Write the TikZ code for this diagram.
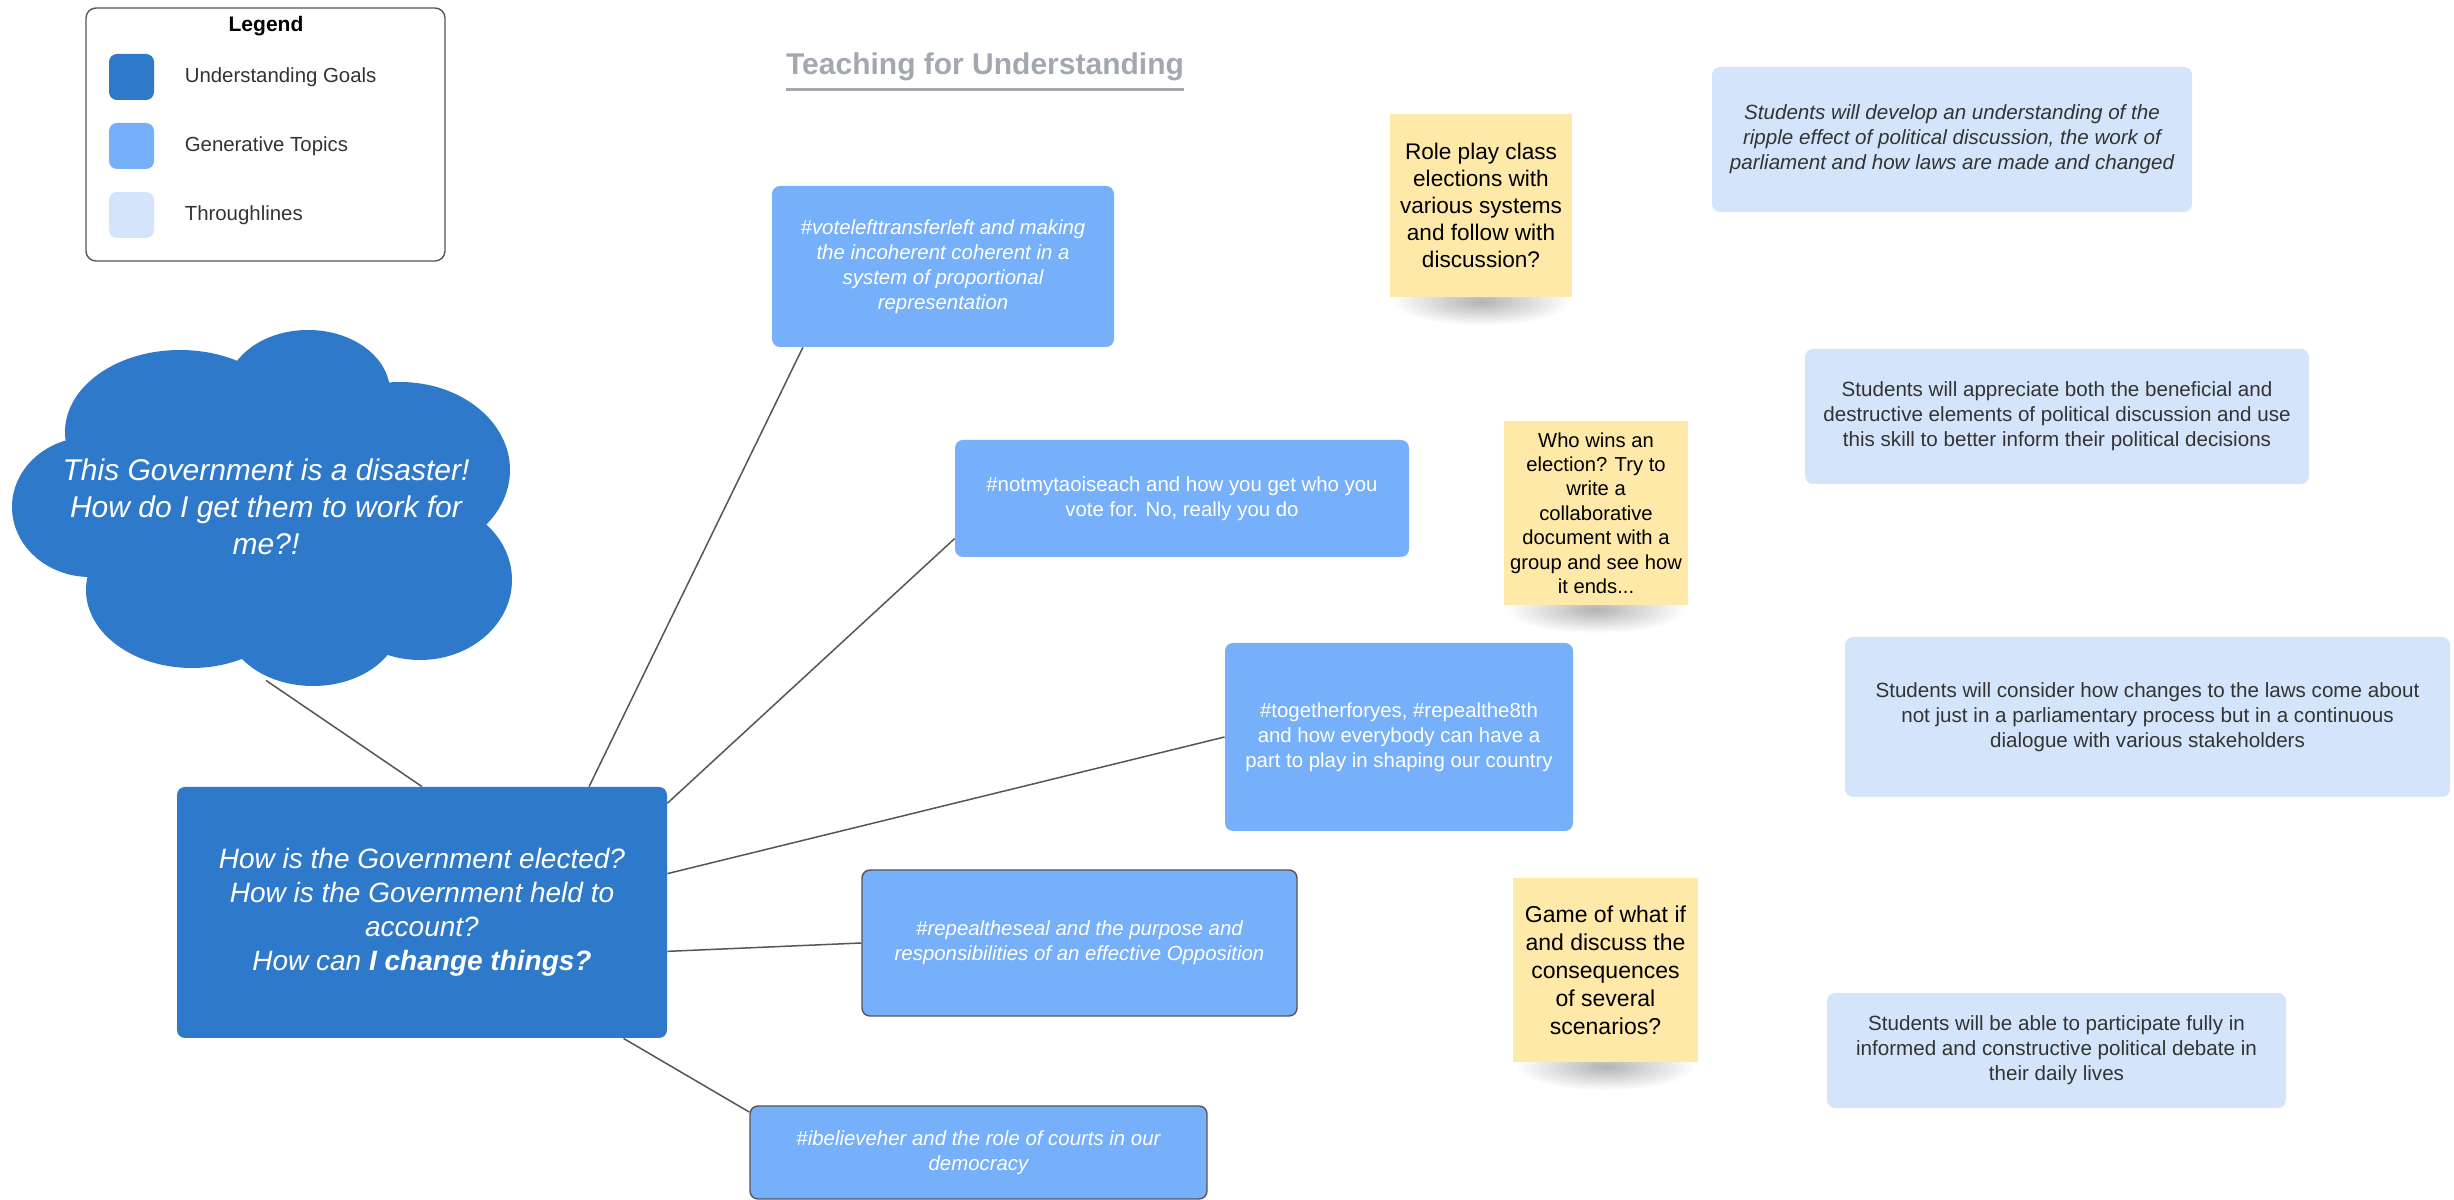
\documentclass[tikz,border=0pt]{standalone}
\usepackage{fontspec}
\setmainfont{Liberation Sans}
\usetikzlibrary{positioning,backgrounds}

\definecolor{ugoal}{HTML}{2E79C9}
\definecolor{gtopic}{HTML}{76AFFA}
\definecolor{thline}{HTML}{D4E5FB}
\definecolor{sticky}{HTML}{FEE9A8}
\definecolor{edgegray}{HTML}{555555}
\definecolor{titlegray}{HTML}{A3A8B0}
\definecolor{textgray}{HTML}{333333}

\tikzset{
  goalbox/.style={fill=ugoal, text=white, rounded corners=4pt, align=center, inner sep=2pt},
  topicbox/.style={fill=gtopic, text=white, rounded corners=4pt, align=center, inner sep=2pt,
    font=\fontsize{10.2}{12.5}\selectfont},
  topicframed/.style={topicbox, draw=edgegray, line width=0.7pt},
  thrubox/.style={fill=thline, text=textgray, rounded corners=4pt, align=center, inner sep=2pt,
    font=\fontsize{10.3}{12.5}\selectfont},
  stickynote/.style={fill=sticky, text=black, align=center, inner sep=2pt},
  link/.style={draw=edgegray, line width=0.75pt},
  notechadow/.style={inner color=black!30, outer color=white}
}

\begin{document}
\begin{tikzpicture}[x=0.5pt,y=0.5pt]
\useasboundingbox (0,0) rectangle (2454,1200);

% legend
\node[draw=edgegray, line width=0.7pt, rounded corners=5pt, minimum width=179.5pt, minimum height=126.5pt] (legend) at (265.5,1065.5) {};
\node[font=\bfseries\fontsize{10.5}{12}\selectfont] (legendtitle) at (266,1174) {Legend};
\foreach \c/\t/\y [count=\i] in {ugoal/Understanding Goals/1123, gtopic/Generative Topics/1054, thline/Throughlines/985}{
  \node[fill=\c, rounded corners=4pt, minimum width=22.5pt, minimum height=23pt, inner sep=0] (swatch\i) at (131.5,\y) {};
  \node[right=15pt of swatch\i, inner sep=0, text=textgray, font=\fontsize{10.2}{12}\selectfont] (label\i) {\t};
}

\node[font=\bfseries\fontsize{15}{18}\selectfont, text=titlegray, inner sep=0] (title) at (985,1133) {Teaching for Understanding};
\draw[titlegray, line width=1.5pt] ([yshift=-4pt]title.south west) -- ([yshift=-4pt]title.south east);

% cloud
\foreach \cx/\cy/\rx/\ry in {180/768/115/82, 308/808/82/62, 400/730/110/88, 420/620/92/80,
  313/580/88/66, 192/610/106/78, 90/693/78/70, 262/693/180/110}{
  \fill[ugoal] (\cx,\cy) ellipse (\rx*0.5pt and \ry*0.5pt);
}
\node[text=white, align=center, font=\itshape\fontsize{15}{18.5}\selectfont, minimum width=249.5pt, minimum height=173pt] (cloud) at (266,693)
  {This Government is a disaster!\\How do I get them to work for\\me?!};

% understanding goal
\node[goalbox, font=\itshape\fontsize{14}{17}\selectfont, minimum width=245pt, minimum height=125.5pt] (main) at (422,287.5)
  {How is the Government elected?\\How is the Government held to\\account?\\How can \textbf{I change things?}};

% generative topics
\node[topicbox, font=\itshape\fontsize{10.2}{12.5}\selectfont, minimum width=171pt, minimum height=80.5pt] (vote) at (943,933.5)
  {\#votelefttransferleft and making\\the incoherent coherent in a\\system of proportional\\representation};
\node[topicbox, minimum width=227pt, minimum height=58.5pt] (taoiseach) at (1182,701.5)
  {\#notmytaoiseach and how you get who you\\vote for. No, really you do};
\node[topicbox, minimum width=174pt, minimum height=94pt] (together) at (1399,463)
  {\#togetherforyes, \#repealthe8th\\and how everybody can have a\\part to play in shaping our country};
\node[topicframed, font=\itshape\fontsize{10.2}{12.5}\selectfont, minimum width=217.5pt, minimum height=73pt] (seal) at (1079.5,257)
  {\#repealtheseal and the purpose and\\responsibilities of an effective Opposition};
\node[topicframed, font=\itshape\fontsize{10.2}{12.5}\selectfont, minimum width=228.5pt, minimum height=46.5pt] (courts) at (978.5,47.5)
  {\#ibelieveher and the role of courts in our\\democracy};

% sticky notes
\node[stickynote, font=\fontsize{11.3}{13.5}\selectfont, minimum width=91pt, minimum height=91.5pt] (roleplay) at (1481,994.5)
  {Role play class\\elections with\\various systems\\and follow with\\discussion?};
\node[stickynote, font=\fontsize{10.1}{12.2}\selectfont, minimum width=92pt, minimum height=92pt] (whowins) at (1596,687)
  {Who wins an\\election? Try to\\write a\\collaborative\\document with a\\group and see how\\it ends...};
\node[stickynote, font=\fontsize{11.5}{14}\selectfont, minimum width=92.5pt, minimum height=92pt] (whatif) at (1605.5,230)
  {Game of what if\\and discuss the\\consequences\\of several\\scenarios?};

% throughlines
\node[thrubox, font=\itshape\fontsize{10.3}{12.5}\selectfont, minimum width=240pt, minimum height=72.5pt] (ripple) at (1952,1060.5)
  {Students will develop an understanding of the\\ripple effect of political discussion, the work of\\parliament and how laws are made and changed};
\node[thrubox, minimum width=252pt, minimum height=67.5pt] (appreciate) at (2057,783.5)
  {Students will appreciate both the beneficial and\\destructive elements of political discussion and use\\this skill to better inform their political decisions};
\node[thrubox, minimum width=302.5pt, minimum height=80pt] (consider) at (2147.5,483)
  {Students will consider how changes to the laws come about\\not just in a parliamentary process but in a continuous\\dialogue with various stakeholders};
\node[thrubox, minimum width=229.5pt, minimum height=57.5pt] (debate) at (2056.5,149.5)
  {Students will be able to participate fully in\\informed and constructive political debate in\\their daily lives};

\begin{pgfonlayer}{background}
\foreach \n in {roleplay,whowins,whatif}{
  \shade[notechadow] ([yshift=-2pt]\n.south) ellipse (45pt and 12pt);
}
\draw[link] (cloud.south) -- (main.north);
\draw[link] (main.37) -- (vote.210);
\draw[link] (main.24) -- (taoiseach.190);
\draw[link] (main.9) -- (together.west);
\draw[link] (main.-9) -- (seal.west);
\draw[link] (main.-32) -- (courts.170);
\end{pgfonlayer}
\end{tikzpicture}
\end{document}
